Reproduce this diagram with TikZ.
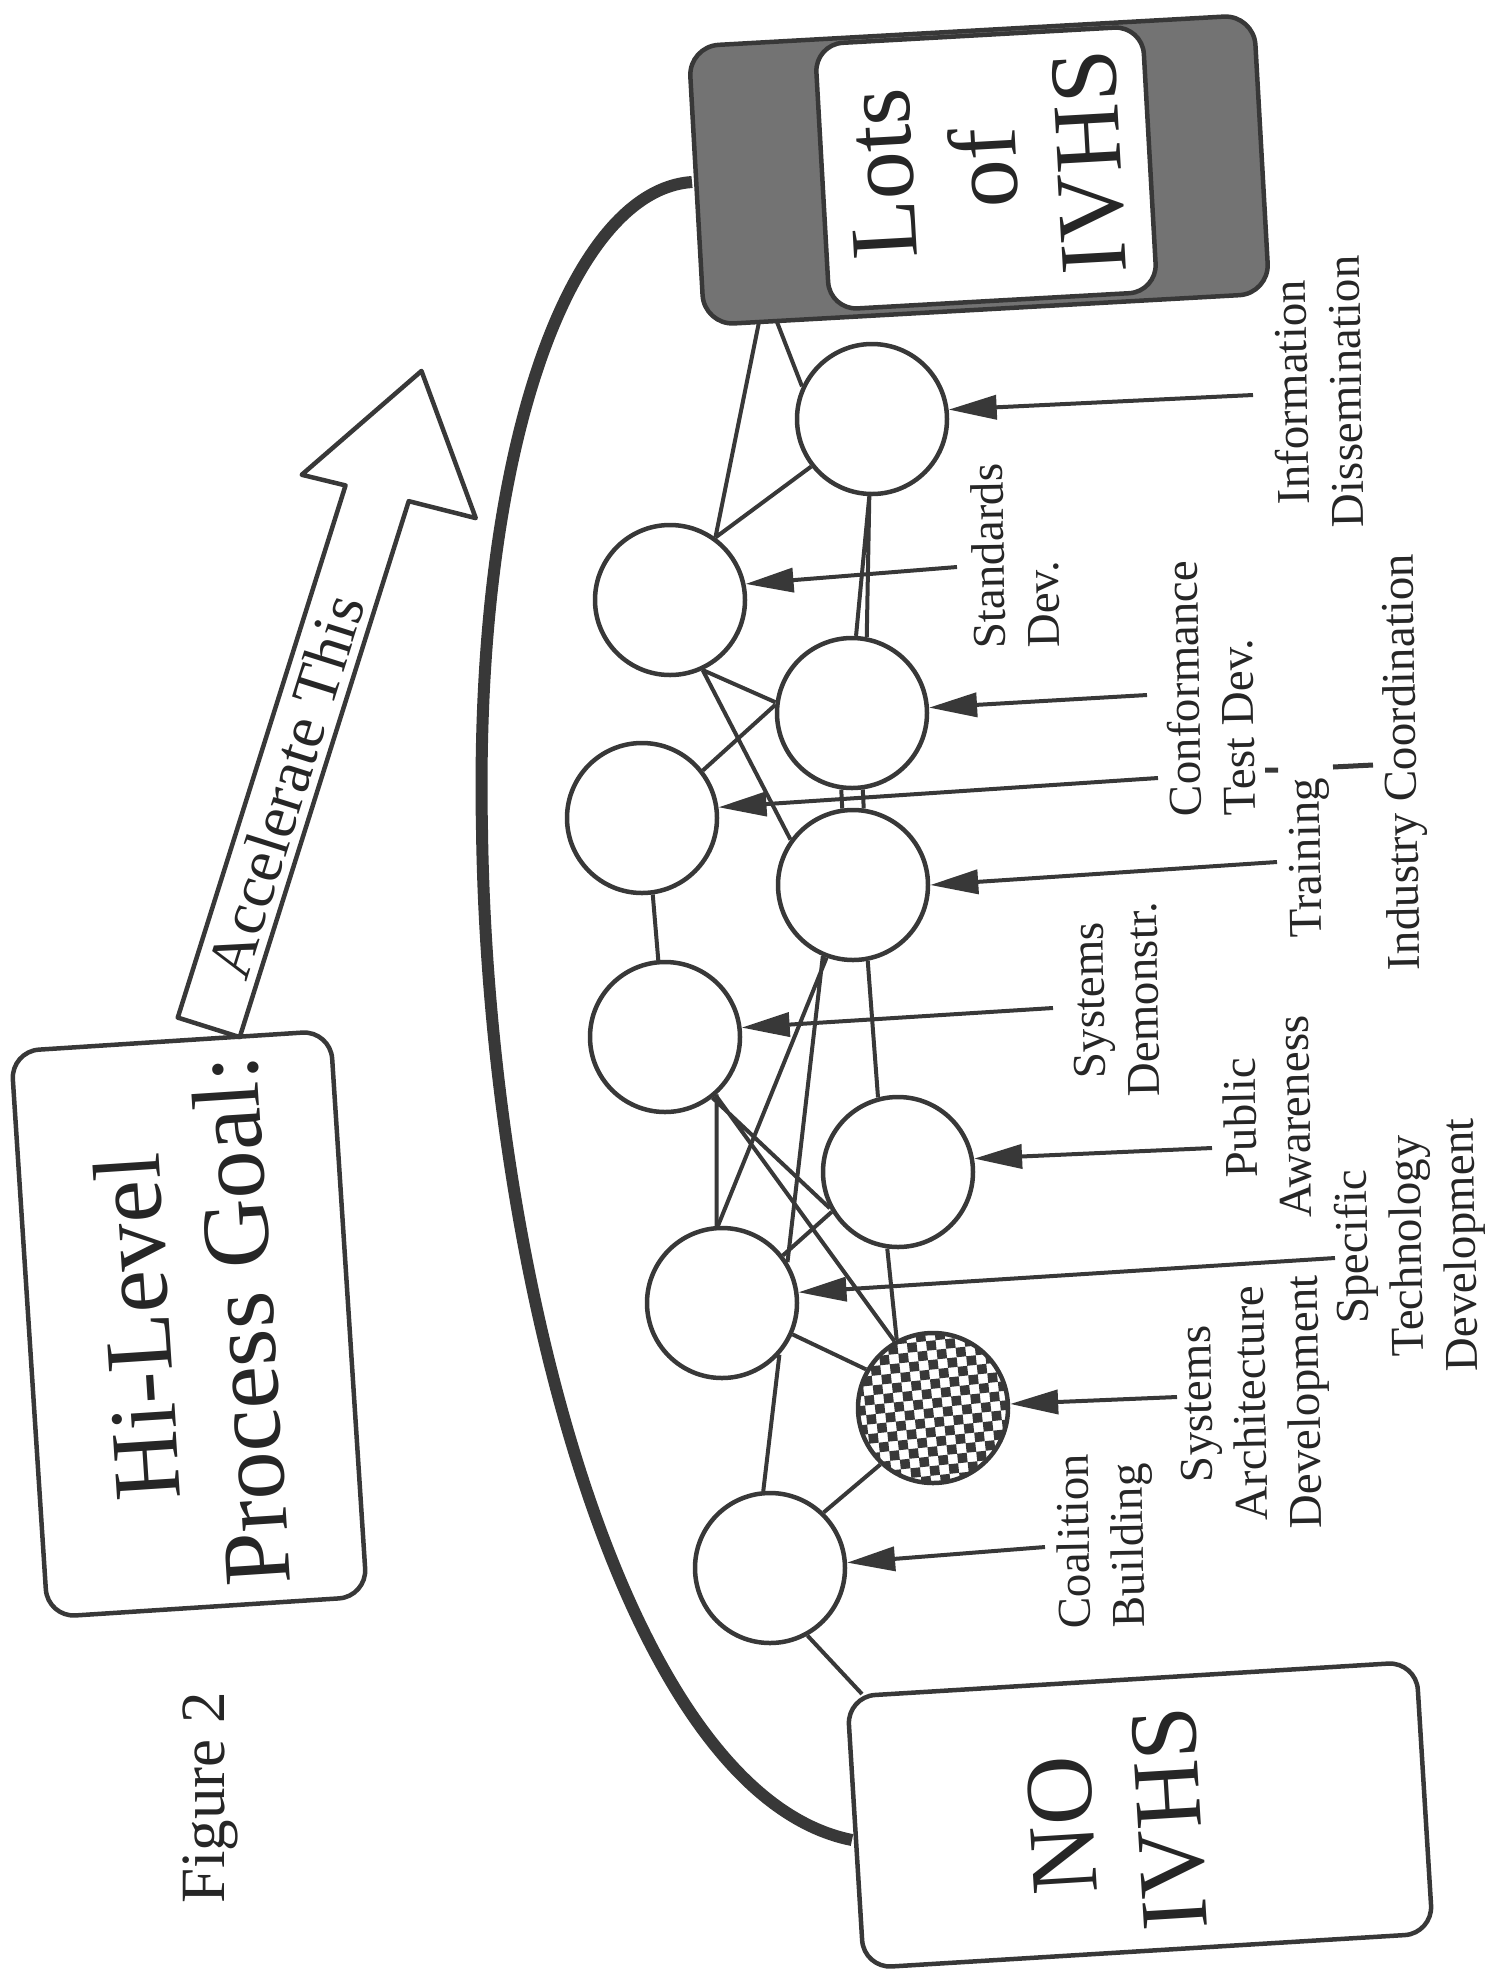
\documentclass[tikz,border=0pt]{standalone}
\usepackage{fontspec}
\setmainfont{Liberation Serif}
\usetikzlibrary{arrows.meta}

\begin{document}
\begin{tikzpicture}[x=1pt,y=-1pt,>={Triangle[length=48pt,width=24pt]},
  ink/.style={draw=black!78,line width=4.5pt},
  spot/.style={ink,circle,fill=white,minimum size=150pt,inner sep=0pt},
  link/.style={draw=black!78,line width=4pt},
  stage/.style={ink,rounded corners=28pt,inner sep=0pt,align=center,text=black!85},
  tag/.style={rotate=91,align=center,inner sep=0pt,text=black!85,font=\fontsize{47}{54}\selectfont}]
  \useasboundingbox (0,0) rectangle (1490,1974);

  \coordinate (lotsC) at (692,182);
  \coordinate (bend) at (482,830);
  \coordinate (noC) at (852,1840);
  \draw[draw=black!78,line width=12pt] (lotsC) .. controls (570,190) and (474,450) .. (bend)
    .. controls (488,1270) and (625,1795) .. (noC);

  \node[ink,fill=black!55,rounded corners=30pt,rotate=93.2,minimum width=279pt,minimum height=566pt,inner sep=0pt] (lots) at (979,170) {};
  \node[stage,fill=white,rotate=93.2,minimum width=266pt,minimum height=328pt,font=\fontsize{96}{104}\selectfont] (lotsin) at (986,168) {Lots\\of\\IVHS};
  \node[stage,rotate=93.5,minimum width=272pt,minimum height=570pt] (noivhs) at (1140,1815) {};
  \node[rotate=93.5,align=center,text=black!85,font=\fontsize{96}{108}\selectfont] (notext) at (1116,1822) {NO\\IVHS};
  \node[stage,rotate=93.7,minimum width=567pt,minimum height=320pt,font=\fontsize{96}{104}\selectfont] (goal) at (189,1324) {Hi-Level\\Process Goal:};
  \node[rotate=90,text=black!85,font=\fontsize{63}{63}\selectfont] (fig) at (210,1798) {Figure 2};

  \begin{scope}[shift={(214,1029)},rotate=72.5]
    \draw[ink,line join=round] (0,-38) -- (558,-38) -- (555,-83) -- (690,0) -- (566,96) -- (562,27) -- (0,27) -- cycle;
    \node[rotate=72.5,text=black!85,font=\fontsize{63}{63}\selectfont] (accel) at (253,-5) {Accelerate This};
  \end{scope}

  \node[spot] (A) at (872,419) {};
  \node[spot] (B) at (670,600) {};
  \node[spot] (C) at (852,713) {};
  \node[spot] (D) at (642,818) {};
  \node[spot] (E) at (853,885) {};
  \node[spot] (F) at (665,1037) {};
  \node[spot] (G) at (898,1172) {};
  \node[spot] (H) at (722,1303) {};
  \begin{scope}[shift={(933,1408)},rotate=6]
    \clip (0,0) circle (75);
    \foreach \i in {-8,...,7}
      \foreach \j in {-8,...,7}{
        \pgfmathtruncatemacro\sq{mod(\i+\j+20,2)}
        \ifnum\sq=1 \fill[black!78] (\i*9.6,\j*9.6) rectangle ++(9.6,9.6);\fi}
  \end{scope}
  \node[spot,fill=none] (I) at (933,1408) {};
  \node[spot] (J) at (770,1568) {};

  \coordinate (lotsA) at (777,322);
  \coordinate (lotsB) at (759,322);
  \coordinate (noJ) at (862,1694);
  \draw[link] (lotsB) -- (B.54) (lotsA) -- (A.155) (A.218) -- (B.54);
  \draw[link] (A.268) -- (C.79) (A.268) -- (C.87);
  \draw[link] (B.295) -- (C.172) (B.295) -- (E.144) (D.38) -- (C.174);
  \draw[link] (C.262) -- (E.98) (C.278) -- (E.82) (D.278) -- (F.95);
  \draw[link] (E.250) -- (H.93) (E.247) -- (H.32) (E.281) -- (G.105);
  \draw[link] (F.312) -- (H.94) (F.311) -- (I.120) (F.308) -- (G.208);
  \draw[link] (G.211) -- (H.38) (G.262) -- (I.118) (H.336) -- (I.150);
  \draw[link] (H.318) -- (J.95) (I.227) -- (J.46) (J.299) -- (noJ);

  \coordinate (infoS) at (1253,395);
  \coordinate (stdS) at (957,567);
  \coordinate (confS) at (1147,695);
  \coordinate (confT) at (1158,778);
  \coordinate (trainS) at (1277,862);
  \coordinate (demoS) at (1053,1008);
  \coordinate (pubS) at (1212,1148);
  \coordinate (specS) at (1335,1258);
  \coordinate (archS) at (1177,1397);
  \coordinate (coalS) at (1045,1547);
  \draw[link,->] (infoS) -- (A.7);
  \draw[link,->] (stdS) -- (B.12);
  \draw[link,->] (confS) -- (C.4);
  \draw[link,->] (confT) -- (D.8);
  \draw[link,->] (trainS) -- (E.0);
  \draw[link,->] (demoS) -- (F.7);
  \draw[link,->] (pubS) -- (G.10);
  \draw[link,->] (specS) -- (H.8);
  \draw[link,->] (archS) -- (I.3);
  \draw[link,->] (coalS) -- (J.4);

  \coordinate (tickA) at (1265,770);
  \coordinate (tickB) at (1333,767);
  \draw[link,line width=5pt] (tickA) -- ++(13,0) (tickB) -- ++(40,-2);

  \node[tag] (info) at (1318,392) {Information\\Dissemination};
  \node[tag,align=left] (std) at (1015,556) {Standards\\Dev.};
  \node[tag,align=left] (conf) at (1210,688) {Conformance\\Test Dev.};
  \node[tag] (train) at (1310,858) {Training};
  \node[tag] (indus) at (1405,762) {Industry Coordination};
  \node[tag] (demo) at (1116,1000) {Systems\\Demonstr.};
  \node[tag] (pub) at (1267,1117) {Public\\Awareness};
  \node[tag] (spec) at (1410,1246) {Specific\\Technology\\Development};
  \node[tag] (arch) at (1255,1403) {Systems\\Architecture\\Development};
  \node[tag,align=left] (coal) at (1105,1541) {Coalition\\Building};
\end{tikzpicture}
\end{document}
